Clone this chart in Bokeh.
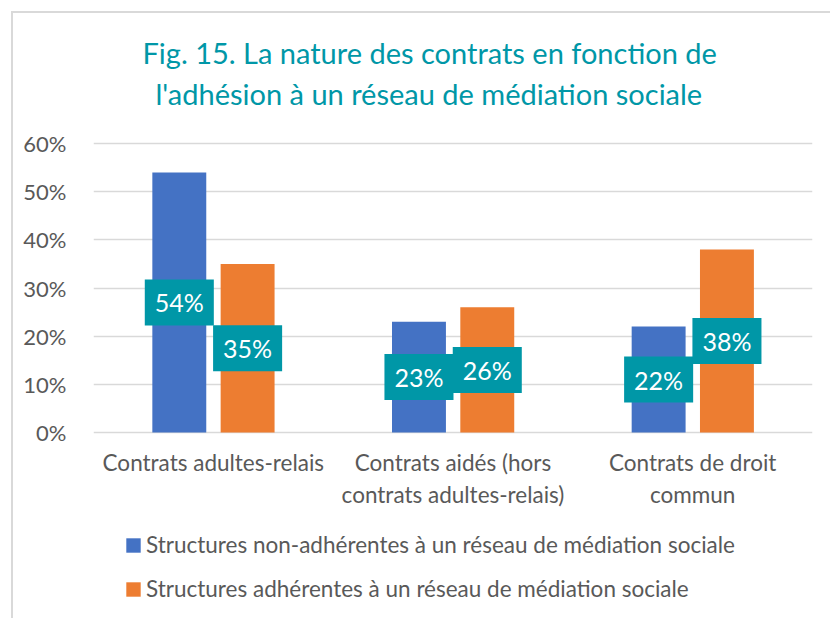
from bokeh.plotting import figure
from bokeh.models import (ColumnDataSource, FactorRange, Range1d, NumeralTickFormatter,
                          FixedTicker, Legend, LegendItem, Title)
from bokeh.core.properties import value
from bokeh.transform import dodge
from bokeh.embed import file_html
from bokeh.resources import INLINE

categories = ["Contrats adultes-relais",
              "Contrats aidés (hors\ncontrats adultes-relais)",
              "Contrats de droit\ncommun"]
non_adherentes = [0.54, 0.23, 0.22]
adherentes = [0.35, 0.26, 0.38]
series_names = ["Structures non-adhérentes à un réseau de médiation sociale",
                "Structures adhérentes à un réseau de médiation sociale"]
title_lines = ["Fig. 15. La nature des contrats en fonction de",
               "l'adhésion à un réseau de médiation sociale"]
y_ticks = [0, 0.1, 0.2, 0.3, 0.4, 0.5, 0.6]

BLUE = "#4472C4"
ORANGE = "#ED7D31"
TEAL = "#0097A7"
GRID = "#D9D9D9"
TXT = "#595959"
FONT = "Lato"

# layout: the frame reaches below the value axis so the legend sits inside it
PX_PER_UNIT = 289 / 0.6          # 0% -> 60% spans 289 px
FRAME_TOP, ZERO_Y, FRAME_BOTTOM = 112, 432, 610
y_start = -(FRAME_BOTTOM - ZERO_Y) / PX_PER_UNIT
y_end = (ZERO_Y - FRAME_TOP) / PX_PER_UNIT

src = ColumnDataSource(dict(
    cat=categories,
    a=non_adherentes,
    b=adherentes,
    a_mid=[v / 2 for v in non_adherentes],
    b_mid=[v / 2 for v in adherentes],
    a_lab=["%d%%" % round(v * 100) for v in non_adherentes],
    b_lab=["%d%%" % round(v * 100) for v in adherentes],
))

chart_border = ("linear-gradient(#D9D9D9, #D9D9D9) 11px 11px / 2px 620px no-repeat, "
                "linear-gradient(#D9D9D9, #D9D9D9) 11px 11px / 830px 2px no-repeat, white")

p = figure(width=830, height=618, x_range=FactorRange(*categories, range_padding=0),
           y_range=Range1d(y_start, y_end), output_backend="svg", toolbar_location=None,
           min_border_left=93, min_border_right=18, min_border_top=FRAME_TOP,
           min_border_bottom=618 - FRAME_BOTTOM,
           styles={"background": chart_border})
p.outline_line_color = None
p.background_fill_color = "white"
p.border_fill_color = None

rb = p.vbar(x=dodge("cat", -0.142, range=p.x_range), top="a", width=0.225, source=src,
            fill_color=BLUE, line_color=None)
ro = p.vbar(x=dodge("cat", 0.143, range=p.x_range), top="b", width=0.225, source=src,
            fill_color=ORANGE, line_color=None)

for xoff, yf, lf in [(-0.142, "a_mid", "a_lab"), (0.143, "b_mid", "b_lab")]:
    p.text(x=dodge("cat", xoff, range=p.x_range), y=yf, text=lf, source=src,
           text_align="center", text_baseline="middle", text_color="white",
           text_font=value(FONT), text_font_size="25px",
           background_fill_color=TEAL,
           padding=dict(left=10, right=10, top=8, bottom=8))

# axes
p.yaxis.ticker = FixedTicker(ticks=y_ticks)
p.yaxis.formatter = NumeralTickFormatter(format="0%")
p.yaxis.axis_line_color = None
p.yaxis.major_tick_line_color = None
p.yaxis.minor_tick_line_color = None
p.yaxis.major_label_standoff = 21
p.yaxis.major_label_text_font = FONT
p.yaxis.major_label_text_font_size = "22px"
p.yaxis.major_label_text_color = TXT

p.xaxis.fixed_location = 0
p.xaxis.axis_line_color = None
p.xaxis.major_tick_line_color = None
p.xaxis.minor_tick_line_color = None
p.xaxis.major_label_standoff = 10
p.xaxis.major_label_text_font = FONT
p.xaxis.major_label_text_font_size = "22.5px"
p.xaxis.major_label_text_color = TXT

p.xgrid.grid_line_color = None
p.ygrid.grid_line_color = GRID
p.ygrid.grid_line_width = 1.5
p.ygrid.ticker = FixedTicker(ticks=y_ticks)

# title (two lines), nearest-to-plot line added first
p.add_layout(Title(text=title_lines[1], align="left", offset=62, standoff=3,
                   text_color=TEAL, text_font=FONT, text_font_size="29px",
                   text_font_style="normal"), "above")
p.add_layout(Title(text=title_lines[0], align="left", offset=49, standoff=5,
                   text_color=TEAL, text_font=FONT, text_font_size="29px",
                   text_font_style="normal"), "above")

legend = Legend(items=[LegendItem(label=series_names[0], renderers=[rb]),
                       LegendItem(label=series_names[1], renderers=[ro])],
                location=(31, 8), orientation="vertical", margin=0,
                glyph_width=18, glyph_height=18, label_height=18, spacing=17,
                label_text_font=FONT, label_text_font_size="22.5px", label_text_color=TXT,
                label_standoff=4, padding=0, border_line_color=None,
                background_fill_alpha=0)
p.add_layout(legend, "center")

open("out.html", "w").write(file_html(p, INLINE))
